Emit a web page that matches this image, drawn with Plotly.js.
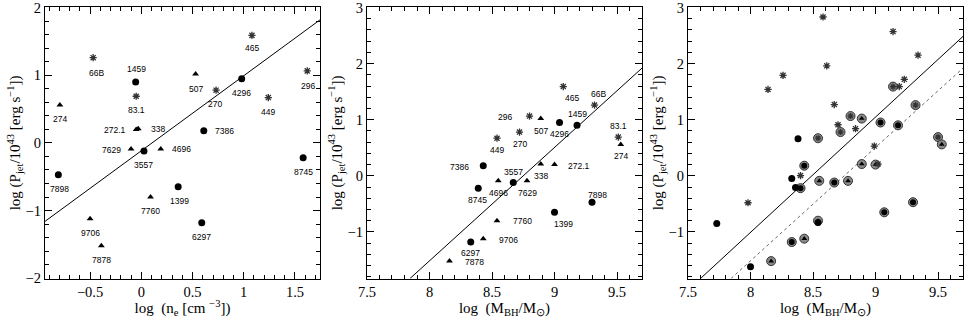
<!DOCTYPE html>
<html><head><meta charset="utf-8">
<script src="https://cdn.plot.ly/plotly-3.0.1.min.js"></script>
<style>html,body{margin:0;padding:0;background:#fff}#plot{width:964px;height:318px}</style>
</head><body><div id="plot"></div>
<script>
// ---- data ----
const names   = ['66B','1459','83.1','274','272.1','338','7629','3557','4696','7898','7760','1399','9706','7878','6297','507','270','4296','465','449','7386','296','8745'];
const types   = ['star','circle','star','tri','tri','tri','tri','circle','tri','circle','tri','circle','tri','tri','circle','tri','star','circle','star','star','circle','star','circle'];
const logNe   = [-0.47,-0.055,-0.05,-0.795,-0.05,-0.03,-0.10,0.026,0.19,-0.81,0.09,0.36,-0.50,-0.39,0.59,0.53,0.73,0.98,1.08,1.24,0.61,1.62,1.58];
const logPjet = [1.26,0.90,0.69,0.56,0.20,0.21,-0.09,-0.12,-0.09,-0.47,-0.80,-0.65,-1.12,-1.52,-1.18,1.02,0.78,0.95,1.59,0.67,0.18,1.065,-0.22];
const logMbh  = [9.32,9.18,9.51,9.53,9.00,8.89,8.78,8.67,8.55,9.30,8.54,9.00,8.43,8.16,8.33,8.89,8.72,9.04,9.07,8.54,8.43,8.80,8.39];
const logMbhRight = [9.32,9.18,9.50,9.53,9.00,8.89,8.78,8.67,8.55,9.30,8.54,9.07,8.43,8.165,8.33,8.89,8.72,9.04,9.14,8.54,8.43,8.80,8.40];
// second sample (right panel only)
const extraStarX = [8.58,9.14,9.34,8.61,8.26,8.14,9.23,9.19,8.67,8.70,8.84,8.99,8.40,7.98,9.02];
const extraStarY = [2.83,2.57,2.15,1.96,1.79,1.54,1.72,1.59,1.27,0.91,0.84,0.53,0.005,-0.48,0.21];
const extraDotX  = [8.38,8.33,8.36,7.73,8.54,8.00];
const extraDotY  = [0.66,-0.05,-0.21,-0.85,-0.83,-1.62];
// fitted lines
const fitNeX = [-0.94,1.745], fitNeY = [-1.16,1.82];
const fitMX  = [7.844,9.70],  fitMY  = [-1.83,1.92];
const fitM2X = [7.60,9.70],   fitM2Y = [-1.83,2.485];

// ---- label placements (pixel offsets: [dx right, dy down]) ----
const offNe = {'66B':[3,15],'1459':[1,-13],'83.1':[0,14],'274':[0,14],'272.1':[-21,1],'338':[20,0],'7629':[-20,1],'3557':[0,14],'4696':[21,0],'7898':[1,14],'7760':[0,14],'1399':[1,14],'9706':[0,14],'7878':[0,14],'6297':[0,14],'507':[0,15],'270':[-1,14],'4296':[0,14],'465':[0,13],'449':[0,14],'7386':[21,0],'296':[1,15],'8745':[0,14]};
const offM = {'66B':[4,-11],'1459':[0,-11],'83.1':[0,-11],'274':[0,12],'272.1':[24,1],'338':[0,12],'7629':[0,12],'3557':[0,-11],'4696':[0,12],'7898':[5,-7],'7760':[25,0],'1399':[9,12],'9706':[25,1],'7878':[25,1],'6297':[0,11],'507':[0,12],'270':[0,12],'4296':[0,11],'465':[9,11],'449':[0,12],'7386':[-24,1],'296':[-25,1],'8745':[-1,12]};

const markerStyle = {
  circle: {symbol:'circle', size:7, color:'#000'},
  tri:    {symbol:'triangle-up', size:6, color:'#000'},
  star:   {symbol:'asterisk-open', size:6, color:'#333', line:{width:1.3, color:'#333'}}
};
const traces = [];
function addSample(xs, ys, xa, ya, scale){
  ['circle','tri','star'].forEach(t=>{
    const idx = types.map((v,i)=>v===t?i:-1).filter(i=>i>=0);
    const m = JSON.parse(JSON.stringify(markerStyle[t]));
    if (scale) m.size = m.size*scale;
    traces.push({type:'scatter', mode:'markers', x:idx.map(i=>xs[i]), y:idx.map(i=>ys[i]),
      xaxis:xa, yaxis:ya, marker:m, hoverinfo:'skip', showlegend:false});
  });
}
// panel 1
traces.push({type:'scatter',mode:'lines',x:fitNeX,y:fitNeY,xaxis:'x',yaxis:'y',line:{color:'#000',width:1},showlegend:false});
addSample(logNe, logPjet, 'x', 'y');
// panel 2
traces.push({type:'scatter',mode:'lines',x:fitMX,y:fitMY,xaxis:'x2',yaxis:'y2',line:{color:'#000',width:1},showlegend:false});
addSample(logMbh, logPjet, 'x2', 'y2');
// panel 3
traces.push({type:'scatter',mode:'lines',x:fitM2X,y:fitM2Y,xaxis:'x3',yaxis:'y3',line:{color:'#000',width:1},showlegend:false});
traces.push({type:'scatter',mode:'lines',x:fitMX,y:fitMY,xaxis:'x3',yaxis:'y3',line:{color:'#666',width:1,dash:'dot'},showlegend:false});
traces.push({type:'scatter',mode:'markers',x:logMbhRight,y:logPjet,xaxis:'x3',yaxis:'y3',
  marker:{symbol:'circle',size:9,color:'#8a8a8a',line:{width:1,color:'#333'}},showlegend:false});
addSample(logMbhRight, logPjet, 'x3', 'y3', 0.85);
traces.push({type:'scatter',mode:'markers',x:extraStarX,y:extraStarY,xaxis:'x3',yaxis:'y3',marker:markerStyle.star,showlegend:false});
traces.push({type:'scatter',mode:'markers',x:extraDotX,y:extraDotY,xaxis:'x3',yaxis:'y3',marker:{symbol:'circle',size:7,color:'#000'},showlegend:false});

const annotations = [];
names.forEach((n,i)=>{
  annotations.push({x:logNe[i],y:logPjet[i],xref:'x',yref:'y',text:n,showarrow:false,
    xshift:offNe[n][0],yshift:-offNe[n][1],font:{family:'Liberation Sans, Arial',size:8.5,color:'#000'}});
  annotations.push({x:logMbh[i],y:logPjet[i],xref:'x2',yref:'y2',text:n,showarrow:false,
    xshift:offM[n][0],yshift:-offM[n][1],font:{family:'Liberation Sans, Arial',size:8.5,color:'#000'}});
});

const tickFont = {family:'Liberation Serif, Times New Roman, serif', size:14.5, color:'#000'};
const titleFont = {family:'Liberation Serif, Times New Roman, serif', size:15, color:'#000'};
function xax(range, dtick, minor, domain, title){
  return {domain:domain, range:range, dtick:dtick, tick0:0, ticks:'inside', ticklen:7, tickwidth:1,
    tickcolor:'#000', mirror:'allticks', showline:true, linecolor:'#000', linewidth:1.2,
    showgrid:false, zeroline:false, tickfont:tickFont, ticklabeloverflow:'allow',
    minor:{dtick:minor, ticks:'inside', ticklen:4, tickwidth:1, tickcolor:'#000', showgrid:false},
    title:{text:title, font:titleFont, standoff:1}};
}
const ytitle = 'log (P<sub>jet</sub>/10<sup>43</sup> [erg s<sup>−1</sup>])';
const ydom = [0.1242, 0.977];
const layout = {
  width:964, height:318, margin:{l:0,r:0,t:0,b:0}, paper_bgcolor:'#fff', plot_bgcolor:'#fff',
  showlegend:false,
  xaxis: Object.assign(xax([-0.94,1.745],0.5,0.1,[0.0467,0.3320],'log  (n<sub>e</sub> [cm <sup>−3</sup>])'),{anchor:'y'}),
  yaxis: Object.assign(xax([-2.005,2.005],1,0.2,ydom,ytitle),{anchor:'x'}),
  xaxis2: Object.assign(xax([7.5,9.7],0.5,0.1,[0.3807,0.6660],'log  (M<sub>BH</sub>/M<sub>⊙</sub>)'),{anchor:'y2'}),
  yaxis2: Object.assign(xax([-1.83,3.003],1,0.2,ydom,ytitle),{anchor:'x2'}),
  xaxis3: Object.assign(xax([7.5,9.7],0.5,0.1,[0.7137,0.9990],'log  (M<sub>BH</sub>/M<sub>⊙</sub>)'),{anchor:'y3'}),
  yaxis3: Object.assign(xax([-1.83,3.003],1,0.2,ydom,ytitle),{anchor:'x3'}),
  annotations: annotations
};
Plotly.newPlot('plot', traces, layout, {staticPlot:true, displayModeBar:false});
</script></body></html>
